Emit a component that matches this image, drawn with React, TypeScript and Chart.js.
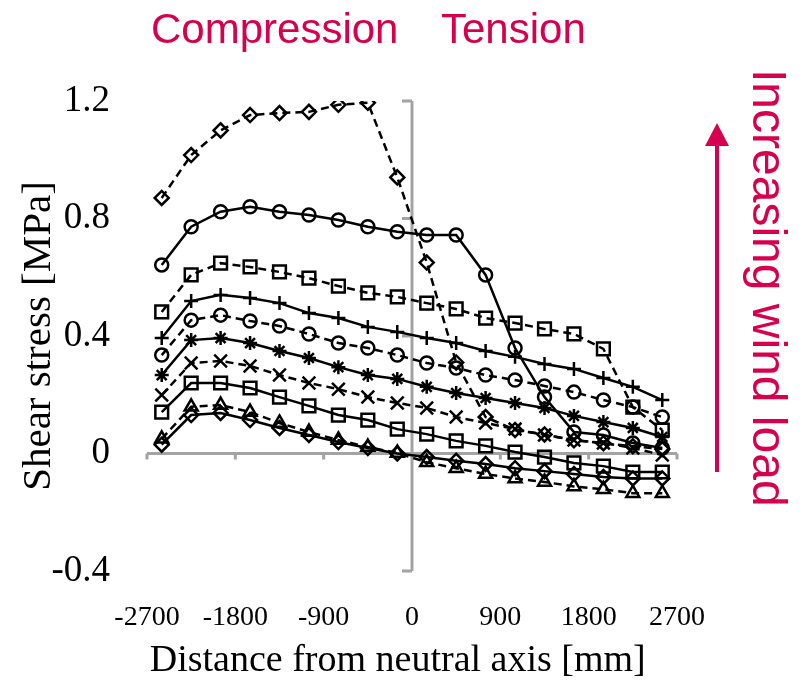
import { useEffect, useRef } from "react";
import { Chart, registerables } from "chart.js";

Chart.register(...registerables);

// Distance from neutral axis [mm] of the measurement points
const distances = [-2550, -2250, -1950, -1650, -1350, -1050, -750, -450, -150, 150, 450, 750, 1050, 1350, 1650, 1950, 2250, 2550];

const xTicks = [-2700, -1800, -900, 0, 900, 1800, 2700];
const xTickLabels = ["-2700", "-1800", "-900", "0", "900", "1800", "2700"];
const yTicks = [-0.4, 0, 0.4, 0.8, 1.2];
const yTickLabels = ["-0.4", "0", "0.4", "0.8", "1.2"];

// Shear stress [MPa], from the lowest wind load (load1) to the highest (load10)
const load1 = [0.03, 0.131, 0.138, 0.114, 0.087, 0.063, 0.039, 0.019, 0.0, -0.012, -0.025, -0.036, -0.05, -0.06, -0.07, -0.08, -0.085, -0.085];
const load2 = [0.05, 0.159, 0.165, 0.141, 0.104, 0.073, 0.046, 0.022, 0.002, -0.03, -0.05, -0.07, -0.085, -0.097, -0.112, -0.122, -0.135, -0.135];
const load3 = [0.141, 0.24, 0.24, 0.223, 0.192, 0.162, 0.131, 0.114, 0.083, 0.066, 0.043, 0.026, 0.005, -0.012, -0.032, -0.043, -0.063, -0.063];
const load4 = [0.199, 0.308, 0.315, 0.298, 0.267, 0.24, 0.219, 0.192, 0.172, 0.155, 0.124, 0.104, 0.083, 0.063, 0.046, 0.036, 0.019, -0.005];
const load5 = [0.267, 0.386, 0.393, 0.376, 0.349, 0.325, 0.294, 0.267, 0.254, 0.227, 0.206, 0.189, 0.172, 0.155, 0.128, 0.107, 0.087, 0.056];
const load6 = [0.335, 0.454, 0.471, 0.451, 0.434, 0.407, 0.376, 0.359, 0.335, 0.308, 0.291, 0.267, 0.25, 0.23, 0.209, 0.182, 0.158, 0.124];
const load7 = [0.393, 0.519, 0.54, 0.529, 0.512, 0.478, 0.461, 0.431, 0.414, 0.393, 0.376, 0.349, 0.329, 0.305, 0.288, 0.257, 0.227, 0.182];
const load8 = [0.482, 0.608, 0.648, 0.635, 0.618, 0.597, 0.57, 0.547, 0.533, 0.512, 0.492, 0.461, 0.444, 0.424, 0.407, 0.356, 0.158, 0.08];
const load9 = [0.642, 0.772, 0.823, 0.84, 0.823, 0.812, 0.795, 0.772, 0.755, 0.744, 0.744, 0.608, 0.359, 0.192, 0.073, 0.063, 0.036, 0.019];
const load10 = [0.87, 1.016, 1.1, 1.152, 1.159, 1.163, 1.187, 1.194, 0.94, 0.65, 0.31, 0.124, 0.08, 0.065, 0.045, 0.035, 0.025, 0.015];

const seriesList = [load10, load9, load8, load7, load6, load5, load4, load3, load2, load1];
const markerStyles = ["rectRot", "circle", "rect", "cross", "circle", "star", "crossRot", "rect", "triangle", "rectRot"];
const markerSizes = [7, 6.5, 9, 7, 6.5, 7, 9, 9, 7.5, 7];
const dashedFlags = [true, false, true, false, true, false, true, false, true, false];

const SERIF = '"Liberation Serif", "Times New Roman", serif';
const SANS = '"Liberation Sans", Arial, sans-serif';
const RED = "#d6004f";

const centerAxes = {
  id: "centerAxes",
  beforeDatasetsDraw(chart: any) {
    const { ctx, scales } = chart;
    const x = scales.x;
    const y = scales.y;
    const x0 = x.getPixelForValue(0);
    const y0 = y.getPixelForValue(0);
    ctx.save();
    ctx.strokeStyle = "#a3a3a3";
    ctx.lineWidth = 3;
    ctx.beginPath();
    ctx.moveTo(x.left, y0);
    ctx.lineTo(x.right, y0);
    ctx.moveTo(x0, y.top);
    ctx.lineTo(x0, y.bottom);
    xTicks.forEach((v) => {
      const px = x.getPixelForValue(v);
      ctx.moveTo(px, y0);
      ctx.lineTo(px, y0 + 6);
    });
    yTicks.forEach((v) => {
      const py = y.getPixelForValue(v);
      ctx.moveTo(x0 - 10, py);
      ctx.lineTo(x0, py);
    });
    ctx.stroke();
    ctx.restore();
  },
};

const annotations = {
  id: "annotations",
  afterDraw(chart: any) {
    const { ctx } = chart;
    ctx.save();
    ctx.fillStyle = RED;
    ctx.strokeStyle = RED;
    ctx.font = `42px ${SANS}`;
    ctx.textAlign = "left";
    ctx.textBaseline = "alphabetic";
    ctx.fillText("Compression", 151, 43);
    ctx.fillText("Tension", 441, 43);

    // arrow
    ctx.lineWidth = 4;
    ctx.beginPath();
    ctx.moveTo(717, 472);
    ctx.lineTo(717, 142);
    ctx.stroke();
    ctx.beginPath();
    ctx.moveTo(717, 123);
    ctx.lineTo(705, 146);
    ctx.lineTo(729, 146);
    ctx.closePath();
    ctx.fill();

    ctx.translate(766, 69);
    ctx.rotate(Math.PI / 2);
    ctx.font = `48px ${SANS}`;
    ctx.textBaseline = "middle";
    ctx.fillText("Increasing wind load", 0, 0);
    ctx.restore();
  },
};

export default function App() {
  const canvasRef = useRef<HTMLCanvasElement | null>(null);

  useEffect(() => {
    if (!canvasRef.current) return;
    const datasets = seriesList.map((vals, i) => ({
      label: `Load ${10 - i}`,
      data: vals.map((v, j) => ({ x: distances[j], y: v })),
      borderColor: "#000",
      borderWidth: 2.5,
      borderDash: dashedFlags[i] ? [8, 5] : [],
      pointStyle: markerStyles[i] as any,
      pointRadius: markerSizes[i],
      pointBorderWidth: 2.5,
      pointBorderColor: "#000",
      pointBackgroundColor: "rgba(0,0,0,0)",
      fill: false,
      tension: 0,
    }));

    const chart = new Chart(canvasRef.current, {
      type: "line",
      data: { datasets },
      options: {
        responsive: false,
        animation: false,
        layout: { padding: { top: 101, right: 126, left: 0, bottom: 0 } },
        plugins: {
          legend: { display: false },
          tooltip: { enabled: false },
        },
        scales: {
          x: {
            type: "linear",
            position: "bottom",
            min: -2700,
            max: 2700,
            afterBuildTicks: (s: any) => {
              s.ticks = xTicks.map((v) => ({ value: v }));
            },
            afterFit: (s: any) => {
              s.height = 117;
            },
            grid: { display: false, drawTicks: false },
            border: { display: false },
            ticks: {
              autoSkip: false,
              maxRotation: 0,
              padding: 30,
              color: "#000",
              font: { family: SERIF, size: 28 },
              callback: (v: any) => {
                const idx = xTicks.indexOf(Number(v));
                return idx >= 0 ? xTickLabels[idx] : "";
              },
            },
            title: {
              display: true,
              text: "Distance from neutral axis [mm]\u00a0\u00a0\u00a0",
              color: "#000",
              font: { family: SERIF, size: 38 },
              padding: { top: 0, bottom: 4 },
            },
          },
          y: {
            type: "linear",
            position: "left",
            min: -0.4,
            max: 1.2,
            afterBuildTicks: (s: any) => {
              s.ticks = yTicks.map((v) => ({ value: v }));
            },
            afterFit: (s: any) => {
              s.width = 147;
            },
            grid: { display: false, drawTicks: false },
            border: { display: false },
            ticks: {
              autoSkip: false,
              padding: 37,
              color: "#000",
              font: { family: SERIF, size: 37 },
              callback: (v: any) => {
                const idx = yTicks.findIndex((t) => Math.abs(t - Number(v)) < 1e-9);
                return idx >= 0 ? yTickLabels[idx] : "";
              },
            },
            title: {
              display: true,
              text: "Shear stress [MPa]",
              color: "#000",
              font: { family: SERIF, size: 41 },
              padding: { top: 15, bottom: 0 },
            },
          },
        },
      },
      plugins: [centerAxes, annotations],
    });
    return () => chart.destroy();
  }, []);

  return (
    <div style={{ position: "absolute", left: 0, top: 0, width: 803, height: 688, background: "#fff" }}>
      <canvas ref={canvasRef} width={803} height={688} style={{ display: "block" }} />
    </div>
  );
}
